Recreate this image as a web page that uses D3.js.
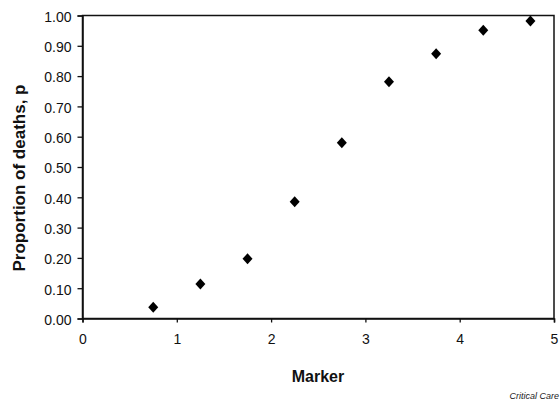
<!DOCTYPE html>
<html><head><meta charset="utf-8">
<script src="https://cdn.jsdelivr.net/npm/d3@7"></script>
<style>body{margin:0;background:#fff}svg{display:block}</style>
</head><body>
<svg id="c" width="560" height="403"></svg>
<script>
const markerValues = [0.75, 1.25, 1.75, 2.25, 2.75, 3.25, 3.75, 4.25, 4.75];
const proportions = [0.037, 0.114, 0.197, 0.385, 0.580, 0.781, 0.874, 0.951, 0.982];
const xTicks = [0, 1, 2, 3, 4, 5];
const yTicks = [0, 0.1, 0.2, 0.3, 0.4, 0.5, 0.6, 0.7, 0.8, 0.9, 1.0];

const svg = d3.select("#c");
const L = 82.5, R = 554, T = 15.5, B = 318.5;
const x = d3.scaleLinear().domain([0, 5]).range([L, R]);
const y = d3.scaleLinear().domain([0, 1]).range([B, T]);
const font = "'Liberation Sans', Arial, sans-serif";

// frame
svg.append("rect").attr("x", L).attr("y", T).attr("width", R - L).attr("height", B - T)
  .attr("fill", "none").attr("stroke", "#111").attr("stroke-width", 1.5);

const xa = svg.append("g").attr("transform", `translate(0,${B})`)
  .call(d3.axisBottom(x).tickValues(xTicks).tickSize(4).tickPadding(12).tickFormat(d3.format("d")));
const ya = svg.append("g").attr("transform", `translate(${L},0)`)
  .call(d3.axisLeft(y).tickValues(yTicks).tickSize(5).tickPadding(6).tickFormat(d3.format(".2f")));
[xa, ya].forEach(a => {
  a.select(".domain").attr("stroke", "#111").attr("stroke-width", 1.5);
  a.selectAll(".tick line").attr("stroke", "#111").attr("stroke-width", 1.3);
  a.selectAll("text").attr("fill", "#111").style("font-family", font).style("font-size", "14px");
});
ya.selectAll("text").attr("dy", "0.42em");

const diamond = "M0,-5.5L5,0L0,5.5L-5,0Z";
svg.append("g").selectAll("path").data(markerValues).join("path")
  .attr("d", diamond)
  .attr("transform", (d, i) => `translate(${x(d)},${y(proportions[i])})`)
  .attr("fill", "#000");

svg.append("text").attr("x", 318).attr("y", 382).attr("text-anchor", "middle")
  .style("font-family", font).style("font-size", "16px").style("font-weight", "bold")
  .attr("fill", "#111").text("Marker");
svg.append("text").attr("transform", `translate(25,178) rotate(-90)`)
  .attr("text-anchor", "middle")
  .style("font-family", font).style("font-size", "17px").style("font-weight", "bold")
  .attr("fill", "#111").text("Proportion of deaths, p");
svg.append("text").attr("x", 559).attr("y", 399).attr("text-anchor", "end")
  .style("font-family", font).style("font-size", "9px").style("font-style", "italic")
  .attr("fill", "#222").text("Critical Care");
</script>
</body></html>
